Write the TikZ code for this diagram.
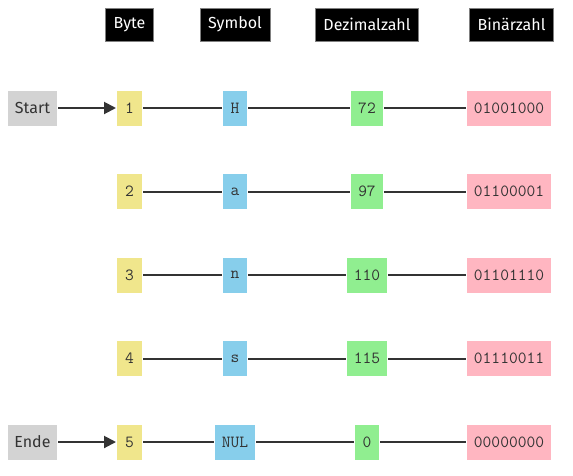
\documentclass[tikz,border=0pt]{standalone}
\usepackage{fontspec}
\setmainfont{Fira Sans}
\usepackage{tikz}
\usetikzlibrary{positioning, arrows.meta}
\definecolor{ForegroundColour}{HTML}{333333}
\definecolor{ByteColour}{HTML}{F0E68C}
\definecolor{SymbolColour}{HTML}{87CEEB}
\definecolor{DecimalColour}{HTML}{90EE90}
\definecolor{BinaryColour}{HTML}{FFB6C1}
\definecolor{MarkerColour}{HTML}{D3D3D3}

\begin{document}
\begin{tikzpicture}[x = 1pt, y = -1pt, line width = 2pt, draw = ForegroundColour,
    head/.style = {fill = black, draw = gray, line width = 0.6pt, text = white, minimum height = 33pt, inner xsep = 8pt, font = \fontsize{16}{19}\selectfont},
    cell/.style = {draw = none, text = ForegroundColour, minimum height = 35pt, minimum width = 24pt, inner xsep = 7pt, font = \fontsize{17}{19}\selectfont\ttfamily},
    marker/.style = {fill = MarkerColour, text = ForegroundColour, minimum height = 35pt, minimum width = 49pt, font = \fontsize{16}{19}\selectfont}]

    \useasboundingbox (0, 0) rectangle (573, 475);

    % column heads
    \node[head] (hByte)    at (129.5, 24.5) {Byte};
    \node[head] (hSymbol)  at (235  , 24.5) {Symbol};
    \node[head] (hDecimal) at (367  , 24.5) {Dezimalzahl};
    \node[head] (hBinary)  at (511.5, 24.5) {Binärzahl};

    % one row per byte
    \foreach \i/\sym/\dec/\bin in {1/H/72/01001000, 2/a/97/01100001, 3/n/110/01101110, 4/s/115/01110011, 5/NUL/0/00000000} {
        \pgfmathsetmacro\rowy{108 + 83.5*(\i - 1)}
        \node[cell, fill = ByteColour, minimum width = 25pt] (byte\i) at (129.5, \rowy) {\i};
        \node[cell, fill = SymbolColour]  (sym\i)  at (235  , \rowy) {\sym};
        \node[cell, fill = DecimalColour] (dec\i)  at (367  , \rowy) {\dec};
        \node[cell, fill = BinaryColour]  (bin\i)  at (509  , \rowy) {\bin};
        \draw[ForegroundColour] (byte\i) -- (sym\i) -- (dec\i) -- (bin\i);
    }

    \node[marker] (start) at (32.5, 108) {Start};
    \node[marker] (ende)  at (32.5, 442) {Ende};
    \draw[ForegroundColour, -{Triangle[length = 12pt, width = 12pt]}] (start) -- (byte1);
    \draw[ForegroundColour, -{Triangle[length = 12pt, width = 12pt]}] (ende) -- (byte5);
\end{tikzpicture}
\end{document}
